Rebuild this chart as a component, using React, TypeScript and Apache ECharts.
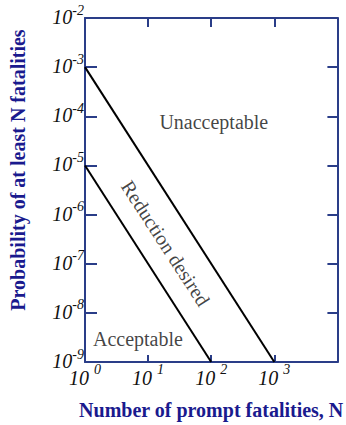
import React, { useEffect, useRef } from 'react';
import * as echarts from 'echarts';

// F-N criterion lines: probability of at least N fatalities vs. N
const upperCriterion: [number, number][] = [
  [1, 1e-3],
  [1000, 1e-9],
];
const lowerCriterion: [number, number][] = [
  [1, 1e-5],
  [100, 1e-9],
];

// Decade exponents shown next to each "10" tick label
const xTickExponents: Record<string, string> = { '0': '0', '1': '1', '2': '2', '3': '3', '4': '' };
const yTickExponents: Record<string, string> = {
  '-9': '-9', '-8': '-8', '-7': '-7', '-6': '-6', '-5': '-5', '-4': '-4', '-3': '-3', '-2': '-2',
};

// Region captions, anchored in data coordinates
const regionNames = ['Unacceptable', 'Acceptable', 'Reduction desired'];
const regionAnchors: [number, number][] = [
  [110, 7.8e-5],
  [6.9, 3e-9],
  [19, 2.6e-7],
];
const regionRotations = [0, 0, -57];

const NAVY = '#2a3d88';
const TITLE = '#1a1a8e';
const SERIF = '"Liberation Serif", "Times New Roman", serif';

const expOf = (v: number) => String(Math.round(Math.log10(v)));

const richTick = (baseLine: number, supPad: number) => ({
  b: {
    fontSize: 20,
    fontStyle: 'italic',
    fontFamily: SERIF,
    color: '#111',
    lineHeight: baseLine,
    verticalAlign: 'bottom',
  },
  s: {
    fontSize: 14,
    fontStyle: 'italic',
    fontFamily: SERIF,
    color: '#111',
    lineHeight: 14,
    verticalAlign: 'top',
    padding: [0, 0, 0, supPad],
  },
});

export default function App() {
  const ref = useRef<HTMLDivElement>(null);

  useEffect(() => {
    if (!ref.current) return;
    const chart = echarts.init(ref.current, undefined, { renderer: 'svg' });

    const frameAxis = {
      type: 'log' as const,
      logBase: 10,
      axisLine: { show: true, lineStyle: { color: NAVY, width: 2 } },
      splitLine: { show: false },
      minorTick: { show: false },
    };

    chart.setOption({
      animation: false,
      backgroundColor: '#fff',
      grid: { left: 84, right: 5, top: 18, bottom: 62 },
      xAxis: [
        {
          ...frameAxis,
          position: 'bottom',
          min: 1,
          max: 10000,
          splitNumber: 4,
          axisTick: { show: true, inside: true, length: 7, lineStyle: { color: NAVY, width: 2 } },
          axisLabel: {
            margin: 0,
            formatter: (v: number) => {
              const e = xTickExponents[expOf(v)];
              return e ? `{b|10}{s|${e}}` : '';
            },
            rich: richTick(26, 5),
          },
          name: 'Number of prompt fatalities, N',
          nameLocation: 'middle',
          nameGap: 38,
          nameTextStyle: {
            fontFamily: SERIF,
            fontWeight: 'bold',
            fontSize: 20,
            color: TITLE,
          },
        },
        {
          ...frameAxis,
          position: 'top',
          min: 1,
          max: 10000,
          splitNumber: 4,
          axisTick: { show: true, inside: true, length: 9, lineStyle: { color: NAVY, width: 2 } },
          axisLabel: { show: false },
        },
      ],
      yAxis: [
        {
          ...frameAxis,
          position: 'left',
          min: 1e-9,
          max: 1e-2,
          splitNumber: 7,
          axisTick: { show: true, inside: true, length: 12, lineStyle: { color: NAVY, width: 2 } },
          axisLabel: {
            margin: 1,
            padding: [0, 0, 6, 0],
            formatter: (v: number) => {
              const e = yTickExponents[expOf(v)];
              return e ? `{b|10}{s|${e}}` : '';
            },
            rich: richTick(24, 0),
          },
          name: 'Probability of at least N fatalities',
          nameLocation: 'middle',
          nameGap: 57,
          nameRotate: 90,
          nameTextStyle: {
            fontFamily: SERIF,
            fontWeight: 'bold',
            fontSize: 20,
            color: TITLE,
            padding: [0, 0, 0, 40],
          },
        },
        {
          ...frameAxis,
          position: 'right',
          min: 1e-9,
          max: 1e-2,
          splitNumber: 7,
          axisTick: { show: true, inside: true, length: 10, lineStyle: { color: NAVY, width: 2 } },
          axisLabel: { show: false },
        },
      ],
      series: [
        {
          type: 'line',
          data: upperCriterion,
          showSymbol: false,
          symbol: 'none',
          lineStyle: { color: '#000', width: 2 },
          silent: true,
        },
        {
          type: 'line',
          data: lowerCriterion,
          showSymbol: false,
          symbol: 'none',
          lineStyle: { color: '#000', width: 2 },
          silent: true,
        },
        {
          type: 'scatter',
          symbolSize: 1,
          itemStyle: { color: 'transparent' },
          silent: true,
          data: regionNames.map((name, i) => ({
            name,
            value: regionAnchors[i],
            label: { rotate: regionRotations[i] },
          })),
          label: {
            show: true,
            position: 'inside',
            formatter: '{b}',
            align: 'center',
            verticalAlign: 'middle',
            fontFamily: SERIF,
            fontSize: 20,
            color: '#111',
          },
        },
      ],
    });

    return () => chart.dispose();
  }, []);

  return (
    <div
      ref={ref}
      style={{ position: 'absolute', left: 0, top: 0, width: 346, height: 425 }}
    />
  );
}
